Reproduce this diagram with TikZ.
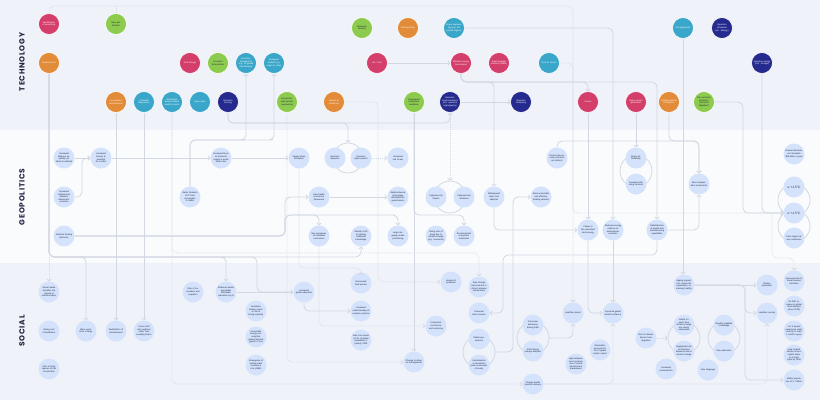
\documentclass[tikz,border=0pt]{standalone}
\usepackage{fontspec}
\setmainfont{Liberation Sans}
\newfontfamily\bandfont{Poppins}[LetterSpace=10]
\usetikzlibrary{arrows.meta}
\definecolor{bgband}{HTML}{EFF2F8}
\definecolor{bgmid}{HTML}{FAFBFD}
\definecolor{cMag}{HTML}{D43E6B}
\definecolor{cGrn}{HTML}{8DCB4E}
\definecolor{cOrg}{HTML}{E28B39}
\definecolor{cTeal}{HTML}{3AA7CA}
\definecolor{cNavy}{HTML}{252B8E}
\definecolor{cGeo}{HTML}{D4E3FB}
\definecolor{cLine}{HTML}{D2D8E2}
\definecolor{cLabel}{HTML}{1F2541}

\begin{document}
\begin{tikzpicture}[x=1pt, y=-1pt,
  >={Straight Barb[length=1.8pt,width=4.5pt]},
  bub/.style={circle, minimum size=21pt, inner sep=0pt, text width=17pt, align=center,
    font=\fontsize{2.2}{2.6}\selectfont},
  tMag/.style={bub, fill=cMag, draw=white, line width=0.6pt, text=white},
  tGrn/.style={bub, fill=cGrn, draw=white, line width=0.6pt, text=cLabel},
  tOrg/.style={bub, fill=cOrg, draw=white, line width=0.6pt, text=white},
  tTeal/.style={bub, fill=cTeal, draw=white, line width=0.6pt, text=white},
  tNavy/.style={bub, fill=cNavy, draw=white, line width=0.6pt, text=white},
  geo/.style={bub, fill=cGeo, text=cLabel},
  ring/.style={circle, draw=cLine, line width=0.8pt, minimum size=#1, inner sep=0pt},
  lnk/.style={draw=cLine, line width=0.8pt, rounded corners=5pt},
  dlnk/.style={lnk, dash pattern=on 0.8pt off 1.2pt},
  band/.style={font=\bandfont\bfseries\fontsize{7.5}{7.5}\selectfont, text=cLabel, rotate=90}
  ]

  %% bands
  \fill[bgband] (0,0) rectangle (820,130);
  \fill[bgmid] (0,130) rectangle (820,263);
  \fill[bgband] (0,263) rectangle (820,400);
  \useasboundingbox (0,0) rectangle (820,400);

  \node[band] (lbTech) at (22,62) {TECHNOLOGY};
  \node[band] (lbGeo) at (22,197) {GEOPOLITICS};
  \node[band] (lbSoc) at (22,331) {SOCIAL};

  %% rings (feedback loops)
  \node[ring=30pt] (qring) at (348,158) {};
  \node[ring=32pt] (cyring) at (450,197) {};
  \node[ring=32pt] (spring) at (636,171) {};
  \node[ring=32pt] (tring1) at (794,200) {};
  \node[ring=32pt] (tring2) at (794,226) {};
  \node[ring=32pt] (gring) at (479,352) {};
  \node[ring=32pt] (ering) at (533,338) {};
  \node[ring=32pt] (hring) at (684,338) {};
  \node[ring=32pt] (kring) at (724,338) {};

  %% technology
  \node[tMag] (idev) at (49,24) {Identification of everything};
  \node[tGrn] (biofuel) at (116,24) {Next gen biofuels};
  \node[tGrn] (molfarm) at (362,28) {Molecular farming};
  \node[tOrg] (bioprint) at (408,28) {3D bioprinting};
  \node[tTeal] (organ) at (454,28) {Organ engineering (e.g. 3D printed organs)};
  \node[tTeal] (antiage) at (683,28) {Anti-aging tech};
  \node[tNavy] (qsim) at (722,28) {Quantum simulation (inc. biology)};
  \node[tOrg] (genai) at (49,63) {Generative AI};
  \node[tMag] (grid) at (190,63) {Grid storage};
  \node[tGrn] (precferm) at (218,63) {Precision fermentation};
  \node[tTeal] (prectx) at (246,63) {Precision therapeutics (e.g. AI guided nanotherapy)};
  \node[tTeal] (biomodel) at (274,63) {Biological models (e.g. organ on chip)};
  \node[tMag] (sixg) at (377,63) {6G / LEO};
  \node[tMag] (wireless) at (461,63) {Wireless energy transmission};
  \node[tMag] (smr) at (499,63) {Small modular reactors (SMRs)};
  \node[tTeal] (cancer) at (549,63) {Cure for cancer};
  \node[tNavy] (qenergy) at (762,63) {Quantum energy (incl. storage)};
  \node[tOrg] (aient) at (116,102) {AI powered entertainment};
  \node[tTeal] (aidiag) at (144,102) {AI based diagnostics};
  \node[tTeal] (blockch) at (172,102) {Blockchain based medical health records};
  \node[tTeal] (spacelab) at (200,102) {Space labs};
  \node[tNavy] (qsense) at (228,102) {Quantum sensing};
  \node[tGrn] (ecogen) at (287,102) {Ecosystem-wide genetic engineering};
  \node[tOrg] (humanai) at (334,102) {Human-AI interaction};
  \node[tGrn] (ecores) at (414,102) {Engineered ecosystem resilience};
  \node[tNavy] (qcomm) at (450,102) {Quantum communications (incl. quantum cryptography)};
  \node[tNavy] (qcomp) at (521,102) {Quantum computing};
  \node[tMag] (fusion) at (588,102) {Fusion};
  \node[tMag] (spacepow) at (636,102) {Space power generation};
  \node[tOrg] (agi) at (669,102) {Artificial general intelligence};
  \node[tGrn] (zeroem) at (704,102) {Zero emission biofactory (`biomass digitalism')};

  %% geopolitics
  \node[geo] (defence) at (64,158) {Increased defence capability (to attack \& defend)};
  \node[geo] (tension) at (101,158) {Increased tension \& potential for conflict};
  \node[geo] (collab) at (64,197) {Increased collaboration between democratic countries};
  \node[geo] (funding) at (64,236) {National funding decisions};
  \node[geo] (ipfree) at (190,197) {Better freedom of IP from universities to SMEs};
  \node[geo] (domestic) at (221,158) {Increased focus on domestic supply to avoid trade risks};
  \node[geo] (supply) at (299,158) {Supply chain disruption};
  \node[geo] (qweapon) at (335,158) {Quantum weapons};
  \node[geo] (qpower) at (361,158) {Quantum super powers};
  \node[geo] (war) at (398,158) {Increased risk of war};
  \node[geo] (healthecon) at (319,197) {New health economics framework};
  \node[geo] (meddevice) at (398,197) {Medical device technology affordable for governments};
  \node[geo] (bigco) at (319,236) {Big companies vs individual consumers};
  \node[geo] (western) at (361,236) {Western shift to utilising traditional knowledge};
  \node[geo] (llm) at (398,236) {Large language model positioning};
  \node[geo] (security) at (557,158) {Current day security protocols are defunct};
  \node[geo] (cyberthreat) at (436,197) {Cybersecurity threats};
  \node[geo] (cyberres) at (464,197) {Cybersecurity resilience};
  \node[geo] (cleantech) at (494,197) {Widespread clean tech adoption};
  \node[geo] (fundveh) at (541,197) {More accessible and effective funding vehicles};
  \node[geo] (livingcost) at (436,236) {Rising cost of living due to climate change (e.g. insurance)};
  \node[geo] (ecorestore) at (464,236) {Environmental ecosystem restoration};
  \node[geo] (cheapenergy) at (588,230) {Cheap or free abundant local energy};
  \node[geo] (reliance) at (613,230) {Reduced energy reliance on authoritarian countries};
  \node[geo] (spaceafford) at (636,158) {Space affordability};
  \node[geo] (orbit) at (636,184) {Crowded orbit, rising tensions};
  \node[geo] (independent) at (699,184) {More independent movements};
  \node[geo] (redistrib) at (657,230) {Redistribution of wealth and manufacturing capabilities};
  \node[geo] (disasters) at (794,154) {Natural disasters cost Australia \$38 billion a year};
  \node[geo, font=\fontsize{3.2}{3.6}\selectfont] (lowtemp) at (794,187) {≤ +1.5°C};
  \node[geo, font=\fontsize{3.2}{3.6}\selectfont] (hightemp) at (794,213) {≥ +1.5°C};
  \node[geo] (paris) at (794,238) {Paris target net zero emissions};

  %% social
  \node[geo] (socialmedia) at (49,292) {Social media amplifies the spread of misinformation};
  \node[geo] (healthcost) at (49,331) {Rising cost of healthcare};
  \node[geo] (workforce) at (86,331) {Mass workforce change};
  \node[geo] (entertain) at (116,331) {Redefinition of entertainment};
  \node[geo] (wellness) at (144,331) {Focus shift onto wellness rather than avoiding illness};
  \node[geo] (extinct) at (49,369) {20\% of living species at risk of extinction};
  \node[geo] (nationalism) at (193,292) {Rise of nationalism and populism};
  \node[geo] (evidence) at (226,292) {Evidence based accessible affordable education by AI};
  \node[geo] (tertiary) at (256,311) {Australian tertiary sector at risk of losing capacity};
  \node[geo] (energyuse) at (256,337) {Accessible energy consumption global demand growth of use};
  \node[geo] (amr) at (256,365) {Emergence of antimicrobial resistance risk (AMR)};
  \node[geo] (education) at (304,292) {Increased global education};
  \node[geo] (foodaccess) at (361,283) {Decreased food access};
  \node[geo] (complexsys) at (361,311) {Increased understanding of complex systems};
  \node[geo] (poverty) at (361,340) {Near zero levels (<1\%) of global population in poverty 2030};
  \node[geo] (disaster) at (414,362) {Change to disaster management};
  \node[geo] (symbiosis) at (451,282) {Human-AI symbiosis};
  \node[geo] (chronic) at (479,287) {Step change improvement in chronic disease interventions};
  \node[geo] (ubi) at (479,313) {Universal basic income};
  \node[geo] (reshoring) at (436,326) {Production restructure and reshoring};
  \node[geo] (governance) at (479,339) {Global governance};
  \node[geo] (central) at (479,365) {Centralisation vs devolution (local economies of scale)};
  \node[geo] (consumer) at (533,325) {Consumer behaviour driving ESG};
  \node[geo] (esg) at (533,351) {ESG driving change adoption};
  \node[geo] (practice) at (533,384) {Change health practice delivery};
  \node[geo] (planet) at (573,313) {Healthier planet};
  \node[geo] (heatrisk) at (576,364) {High temperatures increase risk of critical infrastructure breakdowns};
  \node[geo] (globalhealth) at (613,313) {Improved global health resilience};
  \node[geo] (informatics) at (600,350) {Informatics accounts for 2\% of global carbon output};
  \node[geo] (ageing) at (684,285) {Ageing population, longer life expectancy, remaining healthy};
  \node[geo] (healthimpact) at (684,325) {Health impacts from climate change are clearly observable};
  \node[geo] (infectious) at (684,351) {Heightened risk of infectious diseases due to climate change};
  \node[geo] (migration) at (646,338) {Risk of climate-driven mass migration};
  \node[geo] (consumerism) at (666,369) {Increased consumerism};
  \node[geo] (knowledge) at (724,325) {Readily available knowledge};
  \node[geo] (neweducation) at (724,351) {New education};
  \node[geo] (newlang) at (708,370) {New language};
  \node[geo] (decline) at (767,285) {Decline population};
  \node[geo] (healthysoc) at (767,313) {Healthier society};
  \node[geo] (speciesrisk) at (794,281) {Increased risk of broad species extinction};
  \node[geo] (fooddemand) at (794,306) {35--56\% increase in global food demand (since 2010)};
  \node[geo] (water) at (794,331) {1 in 5 people experience water scarcity at least 1 month a year};
  \node[geo] (heatdeaths) at (794,355) {Heat related deaths across capital cities to at least triple by 2030};
  \node[geo] (population) at (794,380) {Global population of 9.7 billion};

  \coordinate (gaiturn) at (49,257);
  \coordinate (tempjoin) at (772,213);

  %% technology links
  \draw[dlnk,->] (idev.north) |- (573,6) -- (573,213) -- (hightemp.west); % bus
  \draw[dlnk] (biofuel.north) -- (116,6);
  \draw[dlnk,->] (cancer.east) -| (planet.north);
  \draw[lnk,->] (sixg.east) -- (wireless.west);
  \draw[lnk,->] (qsense.south) |- (440,123) -| (qcomm.south);
  \draw[lnk,->] (qsense.south) |- (340,123) -| (qring.north);
  \draw[lnk,->] (qcomm.east) -- (qcomp.west);
  \draw[lnk,->] (wireless.south) |- (640,82) -| (redistrib.north);
  \draw[lnk,->] (wireless.south) |- (580,82) -| (fusion.north);
  \draw[lnk,->] (wireless.south) |- (490,82) -| (cleantech.north);
  \draw[lnk,->] (organ.east) -| (reliance.north);
  \draw[lnk,->] (fusion.south) -- (cheapenergy.north);
  \draw[lnk,->] (spacepow.south) -- (spaceafford.north);
  \draw[lnk,->] (agi.south) |- (690,141) -| (independent.north);
  \draw[lnk,->] (security.north) |- (690,141) -| (independent.north);
  \draw[lnk,->] (antiage.south) -- (antiage.south |- ageing.north);
  \draw[lnk,->] (zeroem.east) -- (743,102) -- (743,213) -- (hightemp.west);
  \draw[lnk,->] (qenergy.south) |- (hightemp.west);
  \draw[dlnk,->] (humanai.east) -- (378,102) -- (378,282) -- (symbiosis.west);
  \draw[dlnk,->] (ecogen.south) |- (disaster.west);
  \draw[lnk,->] (ecores.south) -- (disaster.north);
  \draw[lnk,->] (ecores.south) |- (455,215) -| (ecorestore.north);
  \draw[dlnk,->] (qcomm.south) -- (cyring.north);
  \draw[lnk,->] (aient.south) -- (entertain.north);
  \draw[lnk,->] (aidiag.south) -- (wellness.north);
  \draw[dlnk,->] (blockch.south) |- (470,253) -| (chronic.north);
  \draw[dlnk,->] (blockch.south) |- (practice.west);
  \draw[lnk,->] (genai.south) |- (80,257) -| (workforce.north);
  \draw[lnk,->] (genai.south) |- (220,257) -| (evidence.north);
  \draw[lnk,->] (genai.south) |- (257,257) -- (257,292) -- (education.west);
  \draw[lnk,->] (genai.south) |- (350,257) -| (western.south);
  \draw[dlnk,->] (gaiturn) -- (socialmedia.north);

  %% geopolitics links
  \draw[lnk,->] (defence.east) -- (tension.west);
  \draw[lnk,->] (collab.east) -- (82,197) |- (tension.west);
  \draw[lnk,->] (tension.east) -- (domestic.west);
  \draw[lnk,->] (domestic.east) -- (supply.west);
  \draw[lnk,->] (funding.east) -- (285,236) -- (285,197) -- (healthecon.west);
  \draw[lnk,->] (funding.east) -- (285,236) |- (310,215) -| (bigco.north);
  \draw[lnk,->] (funding.east) -- (285,236) |- (390,215) -| (llm.north);
  \draw[lnk,->] (healthecon.east) -- (meddevice.west);
  \draw[dlnk,->] (qpower.east) -- (war.west);
  \draw[lnk,->] (ipfree.north) |- (240,140) -| (prectx.south);
  \draw[lnk,->] (ipfree.north) |- (268,140) -| (biomodel.south);
  \draw[lnk,->] (cleantech.south) |- (cheapenergy.west);
  \draw[lnk,->] (cheapenergy.south) |- (globalhealth.west);
  \draw[lnk,->] (reliance.south) -- (globalhealth.north);
  \draw[lnk,->] (redistrib.south) -- (657,255) -- (503,255) -- (503,313) -- (ubi.east);
  \draw[lnk,->] (redistrib.east) -| (independent.south);
  \draw[dlnk,->] (tempjoin) |- (785,258) -| (speciesrisk.north);
  \draw[dlnk,->] (bigco.south) |- (reshoring.west);
  \draw[dlnk,->] (supply.south) |- (350,268) -| (foodaccess.north);

  %% social links
  \draw[lnk,->] (evidence.east) -- (education.west);
  \draw[lnk,->] (education.south) |- (complexsys.west);
  \draw[lnk,->] (gring.east) -- (513,352) -- (513,197) -- (fundveh.west);
  \draw[lnk,->] (ering.east) -| (planet.south);
  \draw[dlnk,->] (practice.east) -| (healthysoc.south);
  \draw[dlnk,->] (practice.east) -| (globalhealth.south);
  \draw[lnk,->] (ageing.east) -- (decline.west);
  \draw[lnk,->] (ageing.east) -- (745,285) |- (healthysoc.west);
  \draw[lnk,->] (ageing.east) -- (745,285) |- (population.west);
  \draw[dlnk,->] (migration.east) -- (hring.west);
\end{tikzpicture}
\end{document}
